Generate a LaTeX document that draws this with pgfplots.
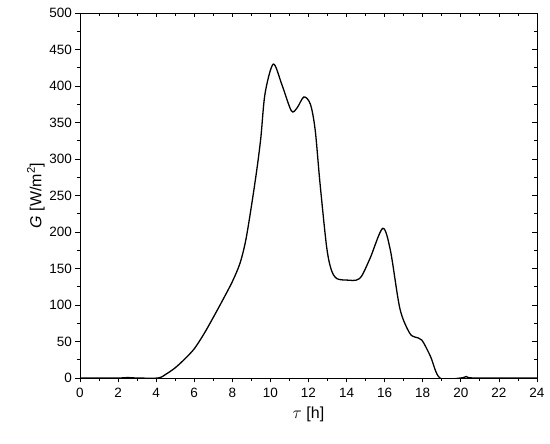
\documentclass[border=0pt]{standalone}
\usepackage{pgfplots}
\pgfplotsset{compat=1.18}
\usepackage{fontspec}
\setmainfont{Liberation Sans}
\setsansfont{Liberation Sans}
\begin{document}
\begin{tikzpicture}[x=1pt,y=1pt]
\path[use as bounding box] (-80,-66) rectangle (470,378);
\pgfplotsset{
  common/.style={
    scale only axis, width=457pt, height=365pt,
    xmin=0, xmax=24, ymin=0, ymax=500,
    xtick={0,2,...,24}, ytick={0,50,...,500},
    minor x tick num=1, minor y tick num=1,
    major tick length=4.5pt, minor tick length=3pt,
    every tick/.style={black, line width=0.8pt},
    axis line style={line width=0.8pt},
  }
}
\begin{axis}[common, at={(0,0)}, anchor=south west,
  tick align=outside, xtick pos=left, ytick pos=left,
  /pgf/number format/assume math mode=true,
  ticklabel style={font=\fontsize{13.5}{15}\selectfont},
  xticklabel style={yshift=-2pt},
  xlabel={\fontsize{16}{18}\selectfont $\tau$ [h]},
  ylabel={\fontsize{16}{18}\selectfont \textit{G} [W/m\textsuperscript{2}]},
  xlabel style={yshift=-2pt},
  ylabel style={yshift=-2pt},
]
\addplot[black, line width=1.3pt, smooth, tension=0.5] coordinates {
(0,0) (2,0) (2.5,0.6) (3,0) (4.1,0) (4.5,5) (5,14) (5.5,26) (6,40) (6.5,60)
(7,83) (7.5,107) (8,132) (8.4,157) (8.7,188) (9.0,235) (9.3,288) (9.5,330) (9.72,390)
(10.15,430) (10.6,402) (11.1,366) (11.4,370) (11.76,385) (12.1,375) (12.35,340)
(12.6,268) (12.95,180) (13.2,148) (13.5,136) (14.1,134) (14.5,134) (14.8,140)
(15.25,165) (15.9,205) (16.3,175) (16.8,95) (17.3,62) (17.6,56) (17.95,52)
(18.4,30) (18.9,0) (20,0) (20.3,2) (20.7,0) (24,0)
};
\end{axis}
\begin{axis}[common, at={(0,0)}, anchor=south west,
  tick align=inside, xtick pos=right, ytick pos=right,
  xticklabels={}, yticklabels={},
]
\end{axis}
\end{tikzpicture}
\end{document}
